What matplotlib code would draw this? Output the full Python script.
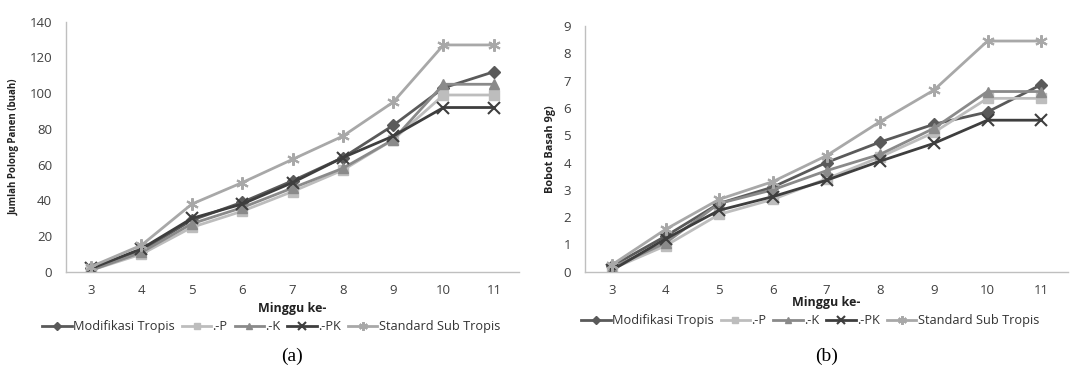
import matplotlib
matplotlib.use("Agg")
import matplotlib.pyplot as plt

weeks = [3, 4, 5, 6, 7, 8, 9, 10, 11]
series_names = ["Modifikasi Tropis", ".-P", ".-K", ".-PK", "Standard Sub Tropis"]

pods_mod = [2, 12, 29, 39, 51, 64, 82, 103, 112]
pods_p = [1, 10, 25, 34, 45, 57, 74, 99, 99]
pods_k = [1, 11, 27, 36, 47, 58, 74, 105, 105]
pods_pk = [2, 13, 30, 38, 50, 64, 76, 92, 92]
pods_std = [3, 15, 38, 50, 63, 76, 95, 127, 127]

wt_mod = [0.2, 1.3, 2.5, 3.1, 4.0, 4.75, 5.4, 5.85, 6.85]
wt_p = [0.1, 0.95, 2.1, 2.65, 3.4, 4.2, 5.1, 6.35, 6.35]
wt_k = [0.15, 1.05, 2.5, 3.0, 3.7, 4.3, 5.25, 6.6, 6.6]
wt_pk = [0.05, 1.2, 2.25, 2.75, 3.35, 4.05, 4.7, 5.55, 5.55]
wt_std = [0.25, 1.55, 2.65, 3.3, 4.25, 5.5, 6.65, 8.45, 8.45]

colors = ["#5a5a5a", "#bdbdbd", "#8a8a8a", "#3e3e3e", "#a8a8a8"]
markers = ["D", "s", "^", "x", (6, 2, 0)]
msizes = [6, 7, 7, 8, 9]

plt.rcParams['font.family'] = ['Open Sans', 'DejaVu Sans']

fig = plt.figure(figsize=(10.77, 3.81), dpi=100)
ax1 = fig.add_axes([66/1077, 1-272/381, (519-66)/1077, (272-21.7)/381])
ax2 = fig.add_axes([585/1077, 1-271.7/381, (1068-585)/1077, (271.7-26)/381])

def draw(ax, data, ylim, yticks, ylabel, ylab_fs, ylab_x, xlab_y, leg_x, leg_y, cap, cap_y):
    for i, vals in enumerate(data):
        ax.plot(weeks, vals, color=colors[i], lw=2, marker=markers[i],
                markersize=msizes[i], markeredgewidth=1.5 if i in (3, 4) else 1,
                label=series_names[i])
    ax.set_xlim(2.5, 11.5)
    ax.set_ylim(*ylim)
    ax.set_yticks(yticks)
    ax.set_xticks(weeks)
    ax.tick_params(axis="x", length=0, labelsize=9.5, colors="#404040", pad=9)
    ax.tick_params(axis="y", length=0, labelsize=9.5, colors="#404040", pad=10)
    for s in ["top", "right"]:
        ax.spines[s].set_visible(False)
    for s in ["left", "bottom"]:
        ax.spines[s].set_color("#bfbfbf")
        ax.spines[s].set_linewidth(1)
    ax.set_ylabel(ylabel, fontsize=ylab_fs, fontweight="bold", color="#222222")
    ax.yaxis.set_label_coords(ylab_x, 0.5)
    ax.set_xlabel("Minggu ke-", fontsize=9, fontweight="bold", color="#222222")
    ax.xaxis.set_label_coords(0.5, xlab_y)
    leg = ax.legend(loc="center", bbox_to_anchor=(leg_x, leg_y), ncol=5, frameon=False,
                    fontsize=9.2, handlelength=2.3, columnspacing=0.55, handletextpad=0.1,
                    borderaxespad=0, markerscale=0.7)
    for t in leg.get_texts():
        t.set_color("#333333")
    ax.text(0.5, cap_y, cap, transform=ax.transAxes, ha="center", va="center",
            fontsize=14, family="Liberation Serif")

draw(ax1, [pods_mod, pods_p, pods_k, pods_pk, pods_std], (0, 140), range(0, 141, 20),
     "Jumlah Polong Panen (buah)", 7, -0.102, -0.12, 0.453, -0.218, "(a)", -0.336)
draw(ax2, [wt_mod, wt_p, wt_k, wt_pk, wt_std], (0, 9), range(0, 10),
     "Bobot Basah 9g)", 7.8, -0.06, -0.1, 0.466, -0.2, "(b)", -0.345)

fig.savefig("out.png", dpi=100)
